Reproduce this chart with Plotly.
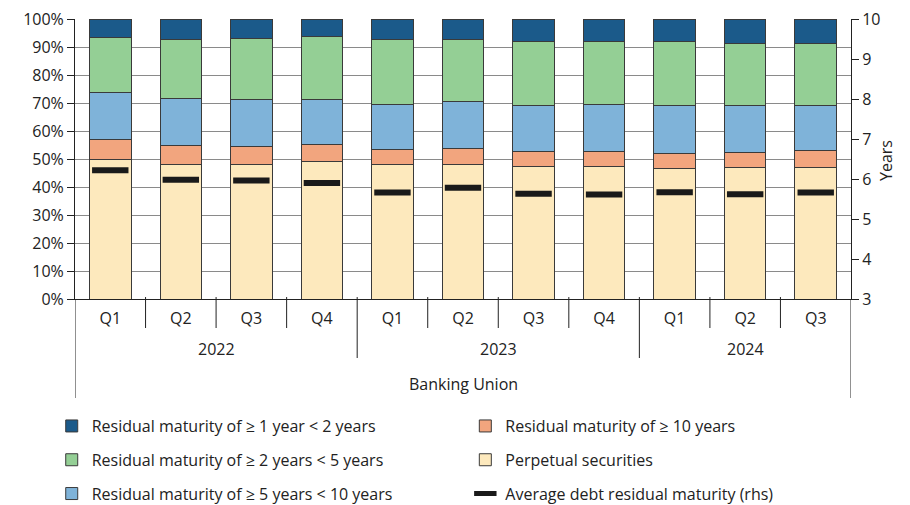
import plotly.graph_objects as go

years = ["2022"] * 4 + ["2023"] * 4 + ["2024"] * 3
quarters = ["Q1", "Q2", "Q3", "Q4", "Q1", "Q2", "Q3", "Q4", "Q1", "Q2", "Q3"]
group_label = "Banking Union"
rhs_title = "Years"

perpetual = [49.8, 48.2, 47.9, 49.0, 48.1, 48.1, 47.4, 47.3, 46.7, 47.1, 47.1]
ge10 = [7.2, 6.7, 6.5, 6.1, 5.4, 5.8, 5.2, 5.3, 5.3, 5.3, 5.8]
y5_10 = [16.6, 16.8, 16.8, 16.1, 16.1, 16.5, 16.6, 16.7, 17.2, 16.8, 16.3]
y2_5 = [19.7, 20.9, 21.9, 22.6, 23.2, 22.4, 22.9, 22.5, 22.7, 21.9, 22.2]
y1_2 = [6.7, 7.4, 6.9, 6.2, 7.2, 7.2, 7.9, 8.2, 8.1, 8.9, 8.6]
avg_maturity = [6.22, 5.98, 5.96, 5.90, 5.66, 5.78, 5.63, 5.61, 5.67, 5.62, 5.66]

idx = list(range(len(quarters)))
FONT = "Open Sans"
TXT = "#222222"
EDGE = "#3a3a3a"
LINE = "#222222"
PLOT_W = 776.0
PLOT_H = 280.0  # plot size in px, for converting px offsets to paper units

fig = go.Figure()
series = [
    ("Perpetual securities", perpetual, "#fde9bd", "legend2", 2),
    ("Residual maturity of ≥ 10 years", ge10, "#f2a57e", "legend2", 1),
    ("Residual maturity of ≥ 5 years < 10 years", y5_10, "#7fb3d9", "legend", 3),
    ("Residual maturity of ≥ 2 years < 5 years", y2_5, "#94cf95", "legend", 2),
    ("Residual maturity of ≥ 1 year < 2 years", y1_2, "#1b5a8a", "legend", 1),
]
for name, vals, col, lg, rank in series:
    fig.add_trace(go.Bar(
        x=idx, y=vals, name=name, marker=dict(color=col, line=dict(color=EDGE, width=1)),
        legend=lg, legendrank=rank, legendgroup=name,
    ))

fig.add_trace(go.Scatter(
    x=idx, y=avg_maturity, name="Average debt residual maturity (rhs)", mode="markers",
    yaxis="y2", legend="legend2", legendrank=3, legendgroup="avg",
    marker=dict(symbol="line-ew", size=26, color="#1a1a1a",
                line=dict(color="#1a1a1a", width=6)),
))

fig.update_layout(
    width=902, height=497,
    margin=dict(l=67, r=59, t=11, b=206, autoexpand=False),
    barmode="stack", bargap=0.41,
    plot_bgcolor="white", paper_bgcolor="white",
    font=dict(family=FONT, size=16, color=TXT),
    showlegend=True,
    xaxis=dict(
        range=[-0.5, len(quarters) - 0.5], tickvals=idx, ticktext=quarters,
        showline=True, linecolor=LINE, linewidth=1, ticks="", ticklabelstandoff=5,
        showgrid=False, zeroline=False, automargin=False,
        tickfont=dict(size=16, color=TXT),
    ),
    yaxis=dict(
        range=[0, 100], dtick=10, ticksuffix="%", showline=True, linecolor=LINE,
        ticks="outside", ticklen=7, tickcolor=LINE, showgrid=True,
        gridcolor="#8a8a8a", gridwidth=1, zeroline=False, automargin=False,
        ticklabeloverflow="allow", tickfont=dict(size=16, color=TXT),
    ),
    yaxis2=dict(
        range=[3, 10], dtick=1, overlaying="y", side="right", showline=True,
        linecolor=LINE, ticks="outside", ticklen=7, tickcolor=LINE,
        showgrid=False, zeroline=False, automargin=False,
        ticklabeloverflow="allow", tickfont=dict(size=16, color=TXT),
    ),
    legend=dict(x=-0.03, xanchor="left", y=-0.393, yanchor="top",
                orientation="v", traceorder="grouped", tracegroupgap=10,
                font=dict(size=16, color=TXT), bgcolor="rgba(0,0,0,0)"),
    legend2=dict(x=0.503, xanchor="left", y=-0.393, yanchor="top",
                 orientation="v", traceorder="grouped", tracegroupgap=10,
                 font=dict(size=16, color=TXT), bgcolor="rgba(0,0,0,0)"),
)

# right-axis title
fig.add_annotation(text=rhs_title, xref="paper", yref="paper", x=1 + 35 / PLOT_W,
                   y=(299 - 161) / PLOT_H, xanchor="center", yanchor="middle",
                   textangle=-90, showarrow=False, font=dict(size=16, color=TXT))

# quarter dividers (short), year dividers (medium), outer frame lines (long)
q_len = -29 / PLOT_H
y_len = -59 / PLOT_H
o_len = -99 / PLOT_H
for k in range(len(quarters) - 1):
    is_year_break = years[k] != years[k + 1]
    fig.add_shape(type="line", xref="x", yref="paper", x0=k + 0.5, x1=k + 0.5,
                  y0=0.007, y1=y_len if is_year_break else q_len,
                  line=dict(color=LINE, width=1))
for xp in [-0.5, len(quarters) - 0.5]:
    fig.add_shape(type="line", xref="x", yref="paper", x0=xp, x1=xp,
                  y0=0, y1=o_len, line=dict(color=LINE, width=1))

# year labels centred under their quarters
seen = []
for yv in years:
    if yv not in seen:
        seen.append(yv)
for yv in seen:
    pos = [i for i, v in zip(idx, years) if v == yv]
    fig.add_annotation(text=yv, xref="x", yref="paper", x=sum(pos) / len(pos),
                       y=-50 / PLOT_H, xanchor="center", yanchor="middle",
                       showarrow=False, font=dict(size=16, color=TXT))

fig.add_annotation(text=group_label, xref="paper", yref="paper", x=0.5, y=-85 / PLOT_H,
                   xanchor="center", yanchor="middle", showarrow=False,
                   font=dict(size=16, color=TXT))

fig.write_html("out.html")
